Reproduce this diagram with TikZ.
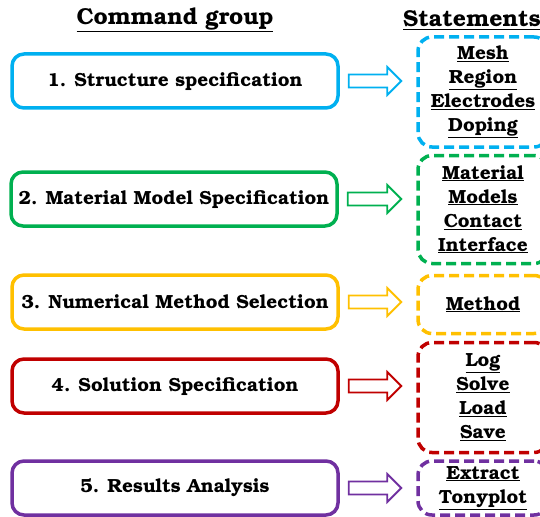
\documentclass[tikz,border=0pt]{standalone}
\usepackage[T1]{fontenc}
\usepackage{bookman}
\usepackage{tikz}
\usetikzlibrary{calc}
\definecolor{cmdblue}{RGB}{0,176,240}
\definecolor{cmdgreen}{RGB}{0,176,80}
\definecolor{cmdgold}{RGB}{255,192,0}
\definecolor{cmdred}{RGB}{192,0,0}
\definecolor{cmdpurple}{RGB}{112,48,160}

\begin{document}
\begin{tikzpicture}[x=1pt, y=-1pt,
    cmdbox/.style={draw=#1, line width=3.5pt, rounded corners=12pt, fill=white,
        minimum width=326pt, minimum height=54pt, font=\bfseries\fontsize{19}{22}\selectfont},
    stmtbox/.style={draw=#1, line width=3.5pt, rounded corners=14pt, dash pattern=on 10pt off 5pt,
        minimum width=130pt, align=center, font=\bfseries\fontsize{19}{24}\selectfont},
    headline/.style={font=\bfseries\fontsize{23}{26}\selectfont}]
    \useasboundingbox (0,0) rectangle (540,516);

    % Column titles
    \node[headline] (hcmd) at (175,20) {\underline{Command group}};
    \node[headline] (hstmt) at (472,20) {\underline{Statements}};

    % Command groups
    \node[cmdbox=cmdblue] (cmd1) at (175,81) {1. Structure specification};
    \node[cmdbox=cmdgreen] (cmd2) at (174,199) {2. Material Model Specification};
    \node[cmdbox=cmdgold] (cmd3) at (175,302) {3. Numerical Method Selection};
    \node[cmdbox=cmdred] (cmd4) at (175,386) {4. Solution Specification};
    \node[cmdbox=cmdpurple] (cmd5) at (175,488) {5. Results Analysis};

    % Statements of each group
    \node[stmtbox=cmdblue, minimum height=110pt] (stmt1) at (483,92)
        {\underline{Mesh}\\\underline{Region}\\\underline{Electrodes}\\\underline{Doping}};
    \node[stmtbox=cmdgreen, minimum height=108pt] (stmt2) at (483,209.5)
        {\underline{Material}\\\underline{Models}\\\underline{Contact}\\\underline{Interface}};
    \node[stmtbox=cmdgold, minimum height=58pt] (stmt3) at (483,304.5)
        {\underline{Method}};
    \node[stmtbox=cmdred, minimum height=110pt] (stmt4) at (483,397.5)
        {\underline{Log}\\\underline{Solve}\\\underline{Load}\\\underline{Save}};
    \node[stmtbox=cmdpurple, minimum height=54pt] (stmt5) at (483,488)
        {\underline{Extract}\\\underline{Tonyplot}};

    % Hollow block arrows from group to statements
    \foreach \i/\col in {1/cmdblue, 2/cmdgreen, 3/cmdgold, 4/cmdred, 5/cmdpurple} {
        \coordinate (s\i) at ($(cmd\i.east)+(9,0)$);
        \coordinate (t\i) at ($(stmt\i.west |- cmd\i.east)+(-15,0)$);
        \draw[\col, line width=1.8pt, line join=miter]
            ($(s\i)+(0,-6.5)$) -- ($(t\i)+(-14,-6.5)$) -- ($(t\i)+(-14,-14)$) -- (t\i)
            -- ($(t\i)+(-14,14)$) -- ($(t\i)+(-14,6.5)$) -- ($(s\i)+(0,6.5)$) -- cycle;
    }
\end{tikzpicture}
\end{document}
